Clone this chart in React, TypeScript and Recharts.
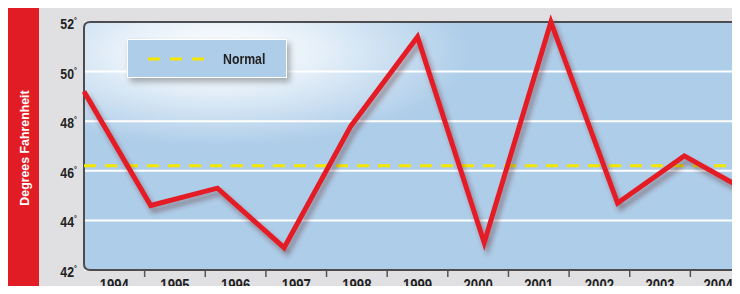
import React from "react";
import {
  LineChart,
  Line,
  XAxis,
  YAxis,
  CartesianGrid,
  ReferenceLine,
  ReferenceArea,
} from "recharts";

const years = ["1994", "1995", "1996", "1997", "1998", "1999", "2000", "2001", "2002", "2003", "2004*"];
const temps = [49.2, 44.6, 45.3, 42.9, 47.8, 51.4, 43.1, 52.0, 44.7, 46.6, 45.1];
const normalTemp = 46.2;
const yTicks = [42, 44, 46, 48, 50, 52];

const data = years.map((year, i) => ({ year, temp: temps[i] }));

// no condensed face installed, so Liberation Sans bold gets squeezed sideways
const FONT = '"Liberation Sans", Arial, sans-serif';
const SQUEEZE = 0.82;

const YTick = (props: any) => {
  const { x, y, payload } = props;
  return (
    <g transform={`translate(${x - 7},${y + 7}) scale(${SQUEEZE},1)`}>
      <text x={0} y={0} textAnchor="end" fontFamily={FONT} fontWeight="bold" fontSize={15} fill="#222">
        {payload.value}
        <tspan dy={-6} fontSize={9}>°</tspan>
      </text>
    </g>
  );
};

const XTick = (props: any) => {
  const { x, y, payload } = props;
  const off = payload.offset ?? 30;
  return (
    <g>
      <line x1={x + off} x2={x + off} y1={y + 1} y2={y + 7} stroke="#555" strokeWidth={1.5} />
      <g transform={`translate(${x},${y + 21}) scale(${SQUEEZE},1)`}>
        <text x={0} y={0} textAnchor="middle" fontFamily={FONT} fontWeight="bold" fontSize={16} fill="#222">
          {payload.value}
        </text>
      </g>
    </g>
  );
};

// dark frame round the plot, rounded on the left side
const Frame = (props: any) => {
  const { x, y, width, height } = props;
  const r = 6;
  const d = `M${x + width},${y} L${x + r},${y} Q${x},${y} ${x},${y + r} L${x},${y + height - r} Q${x},${y + height} ${x + r},${y + height} L${x + width},${y + height}`;
  return <path d={d} fill="none" stroke="#4d4d4f" strokeWidth={2} />;
};

export default function App() {
  return (
    <div
      style={{
        position: "relative",
        width: 740,
        height: 294,
        margin: -8,
        overflow: "hidden",
        background: "#e0e0e2",
      }}
    >
      <div
        style={{
          position: "absolute",
          left: 8,
          top: 8,
          width: 31,
          bottom: 0,
          background: "#e21c24",
        }}
      >
        <div
          style={{
            position: "absolute",
            left: 16,
            top: 140,
            transform: "translate(-50%, -50%) rotate(-90deg) scaleX(0.95)",
            whiteSpace: "nowrap",
            color: "#fff",
            fontFamily: FONT,
            fontWeight: "bold",
            fontSize: 13,
          }}
        >
          Degrees Fahrenheit
        </div>
      </div>

      <div style={{ position: "absolute", left: 0, top: 0 }}>
        <LineChart width={770} height={294} data={data} margin={{ top: 22, right: 19, left: 0, bottom: 0 }}>
          <defs>
            <radialGradient id="plotBg" cx="0.2" cy="0.12" r="0.38" fx="0.2" fy="0.12">
              <stop offset="0%" stopColor="#ffffff" />
              <stop offset="40%" stopColor="#e6f0f9" />
              <stop offset="100%" stopColor="#aecde9" />
            </radialGradient>
            <filter id="lineShadow" x="-10%" y="-10%" width="120%" height="130%">
              <feGaussianBlur in="SourceAlpha" stdDeviation="2.5" />
              <feOffset dx="3" dy="5" result="blur" />
              <feFlood floodColor="#5a2a2a" floodOpacity="0.45" />
              <feComposite in2="blur" operator="in" />
              <feMerge>
                <feMergeNode />
                <feMergeNode in="SourceGraphic" />
              </feMerge>
            </filter>
          </defs>
          <CartesianGrid vertical={false} stroke="#ffffff" strokeWidth={2} fill="url(#plotBg)" fillOpacity={1} />
          <XAxis
            dataKey="year"
            scale="band"
            interval={0}
            tickSize={0}
            tickMargin={0}
            axisLine={false}
            tickLine={false}
            tick={<XTick />}
            height={24}
          />
          <XAxis xAxisId="pt" dataKey="year" scale="point" hide />
          <YAxis
            domain={[42, 52]}
            ticks={yTicks}
            width={84}
            tickSize={0}
            tickMargin={0}
            axisLine={false}
            tickLine={false}
            tick={<YTick />}
          />
          <ReferenceArea y1={42} y2={52} shape={<Frame />} ifOverflow="visible" />
          <ReferenceLine
            y={normalTemp}
            xAxisId="pt"
            stroke="#f4e600"
            strokeWidth={3}
            strokeDasharray="12 9"
          />
          <Line
            xAxisId="pt"
            type="linear"
            dataKey="temp"
            stroke="#e41e25"
            strokeWidth={5}
            dot={false}
            activeDot={false}
            filter="url(#lineShadow)"
            isAnimationActive={false}
          />
        </LineChart>
      </div>

      <div
        style={{
          position: "absolute",
          left: 127,
          top: 39,
          width: 158,
          height: 37,
          background: "#aecde9",
          border: "1.5px solid #ffffff",
          boxShadow: "3px 4px 6px rgba(0,0,0,0.3)",
          display: "flex",
          alignItems: "center",
        }}
      >
        <svg width={60} height={6} style={{ marginLeft: 20 }}>
          <line x1={0} x2={60} y1={3} y2={3} stroke="#f4e600" strokeWidth={3} strokeDasharray="12 10" />
        </svg>
        <span
          style={{
            display: "inline-block",
            marginLeft: 15,
            fontFamily: FONT,
            fontWeight: "bold",
            fontSize: 15,
            color: "#222",
            transform: `scaleX(${SQUEEZE})`,
            transformOrigin: "left center",
          }}
        >
          Normal
        </span>
      </div>
    </div>
  );
}
